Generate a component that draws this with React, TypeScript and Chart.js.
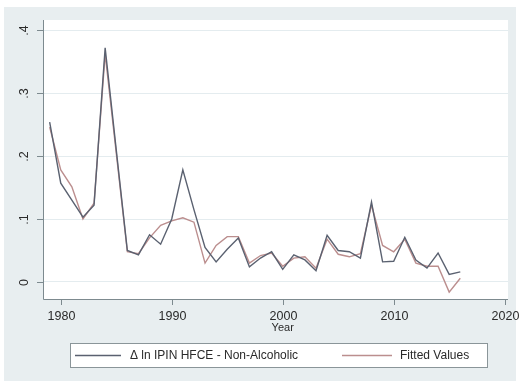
import React, { useEffect, useRef } from "react";
import { Chart, registerables } from "chart.js";

Chart.register(...registerables);

const years = [
  1979, 1980, 1981, 1982, 1983, 1984, 1985, 1986, 1987, 1988,
  1989, 1990, 1991, 1992, 1993, 1994, 1995, 1996, 1997, 1998,
  1999, 2000, 2001, 2002, 2003, 2004, 2005, 2006, 2007, 2008,
  2009, 2010, 2011, 2012, 2013, 2014, 2015, 2016,
];
const actualValues = [
  0.254, 0.157, 0.13, 0.103, 0.122, 0.372, 0.21, 0.05, 0.043, 0.075,
  0.06, 0.1, 0.178, 0.115, 0.055, 0.032, 0.052, 0.07, 0.024, 0.038,
  0.048, 0.02, 0.043, 0.035, 0.018, 0.074, 0.05, 0.048, 0.038, 0.127,
  0.032, 0.033, 0.071, 0.035, 0.022, 0.046, 0.012, 0.016,
];
const fittedValues = [
  0.246, 0.178, 0.151, 0.1, 0.125, 0.362, 0.205, 0.048, 0.045, 0.07,
  0.09, 0.097, 0.102, 0.095, 0.03, 0.058, 0.072, 0.072, 0.03, 0.042,
  0.046, 0.025, 0.038, 0.04, 0.022, 0.068, 0.044, 0.04, 0.045, 0.122,
  0.058, 0.048, 0.068, 0.03, 0.025, 0.025, -0.016, 0.006,
];
const xTicks = [1980, 1990, 2000, 2010, 2020];
const yTicks = [0, 0.1, 0.2, 0.3, 0.4];
const yTickLabels = ["0", ".1", ".2", ".3", ".4"];
const seriesNames = ["\u0394 ln IPIN HFCE - Non-Alcoholic", "Fitted Values"];
const xTitle = "Year";

const ACTUAL_COLOR = "#5a6170";
const FITTED_COLOR = "#bb8e8e";
const FONT = '"Liberation Sans", Arial, sans-serif';

export default function App() {
  const ref = useRef<HTMLCanvasElement | null>(null);

  useEffect(() => {
    if (!ref.current) return;

    const decor = {
      id: "decor",
      beforeDraw(chart: any) {
        const { ctx, chartArea } = chart;
        ctx.save();
        ctx.fillStyle = "#ffffff";
        ctx.fillRect(0, 0, 520, 381);
        ctx.fillStyle = "#e8eef0";
        ctx.fillRect(4, 7, 512, 374);
        ctx.fillStyle = "#ffffff";
        ctx.fillRect(
          chartArea.left,
          chartArea.top,
          chartArea.right - chartArea.left,
          chartArea.bottom - chartArea.top
        );
        ctx.restore();
      },
      afterDraw(chart: any) {
        const { ctx, chartArea, scales } = chart;
        const xs = scales.x;
        const ys = scales.y;
        ctx.save();
        // axis lines
        ctx.strokeStyle = "#7d8a8f";
        ctx.lineWidth = 1;
        ctx.beginPath();
        ctx.moveTo(chartArea.left + 0.5, chartArea.top);
        ctx.lineTo(chartArea.left + 0.5, chartArea.bottom + 0.5);
        ctx.lineTo(chartArea.right, chartArea.bottom + 0.5);
        ctx.stroke();

        ctx.fillStyle = "#2a2a2a";
        ctx.font = `12.5px ${FONT}`;
        ctx.textAlign = "center";
        ctx.textBaseline = "middle";
        // x ticks
        xTicks.forEach((v) => {
          const px = Math.round(xs.getPixelForValue(v)) + 0.5;
          ctx.beginPath();
          ctx.moveTo(px, chartArea.bottom);
          ctx.lineTo(px, chartArea.bottom + 6);
          ctx.stroke();
          ctx.fillText(String(v), px, chartArea.bottom + 18);
        });
        // y ticks
        yTicks.forEach((v, i) => {
          const py = Math.round(ys.getPixelForValue(v)) + 0.5;
          ctx.beginPath();
          ctx.moveTo(chartArea.left - 6, py);
          ctx.lineTo(chartArea.left, py);
          ctx.stroke();
          ctx.save();
          ctx.translate(chartArea.left - 18, py);
          ctx.rotate(-Math.PI / 2);
          ctx.fillText(yTickLabels[i], 0, 0);
          ctx.restore();
        });
        // x title
        ctx.font = `11px ${FONT}`;
        ctx.fillText(xTitle, xs.getPixelForValue(2000), chartArea.bottom + 29);

        // legend
        const lx = 70, ly = 343, lw = 417, lh = 24;
        ctx.fillStyle = "#ffffff";
        ctx.fillRect(lx, ly, lw, lh);
        ctx.strokeStyle = "#8a9599";
        ctx.strokeRect(lx + 0.5, ly + 0.5, lw, lh);
        const my = ly + lh / 2 + 0.5;
        ctx.lineWidth = 1.5;
        ctx.strokeStyle = ACTUAL_COLOR;
        ctx.beginPath();
        ctx.moveTo(75, my);
        ctx.lineTo(121, my);
        ctx.stroke();
        ctx.strokeStyle = FITTED_COLOR;
        ctx.beginPath();
        ctx.moveTo(342, my);
        ctx.lineTo(392, my);
        ctx.stroke();
        ctx.fillStyle = "#2a2a2a";
        ctx.font = `12px ${FONT}`;
        ctx.textAlign = "left";
        ctx.fillText(seriesNames[0], 130, my);
        ctx.fillText(seriesNames[1], 400, my);
        ctx.restore();
      },
    };

    const chart = new Chart(ref.current, {
      type: "line",
      data: {
        datasets: [
          {
            label: seriesNames[0],
            data: years.map((y, i) => ({ x: y, y: actualValues[i] })),
            borderColor: ACTUAL_COLOR,
            borderWidth: 1.4,
            pointRadius: 0,
            tension: 0,
            fill: false,
          },
          {
            label: seriesNames[1],
            data: years.map((y, i) => ({ x: y, y: fittedValues[i] })),
            borderColor: FITTED_COLOR,
            borderWidth: 1.4,
            pointRadius: 0,
            tension: 0,
            fill: false,
          },
        ],
      },
      options: {
        responsive: false,
        animation: false,
        events: [],
        layout: { padding: { left: 43, top: 20, right: 12, bottom: 82 } },
        plugins: { legend: { display: false }, tooltip: { enabled: false } },
        scales: {
          x: {
            type: "linear",
            min: 1978.4,
            max: 2020.3,
            afterBuildTicks: (s: any) => {
              s.ticks = xTicks.map((v) => ({ value: v }));
            },
            afterFit: (s: any) => {
              s.height = 0;
            },
            ticks: { display: false },
            grid: { display: false, drawTicks: false },
            border: { display: false },
          },
          y: {
            type: "linear",
            min: -0.027,
            max: 0.416,
            afterBuildTicks: (s: any) => {
              s.ticks = yTicks.map((v) => ({ value: v }));
            },
            afterFit: (s: any) => {
              s.width = 0;
            },
            ticks: { display: false },
            grid: { color: "#e4ecef", lineWidth: 1, drawTicks: false },
            border: { display: false },
          },
        },
      },
      plugins: [decor],
    });
    return () => chart.destroy();
  }, []);

  return (
    <div style={{ position: "fixed", left: 0, top: 0, width: 520, height: 381 }}>
      <canvas ref={ref} width={520} height={381} />
    </div>
  );
}
